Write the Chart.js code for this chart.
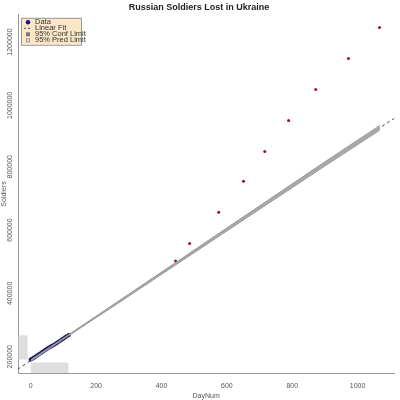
<!DOCTYPE html>
<html><head><meta charset="utf-8">
<script src="https://cdn.jsdelivr.net/npm/chart.js@4"></script>
<style>html,body{margin:0;padding:0;background:#fff}#w{width:400px;height:400px}</style>
</head><body><div id="w"><canvas id="c"></canvas></div>
<script>
const dataDays = [0,5,10,15,20,25,30,35,40,45,50,55,60,65,70,75,80,85,90,95,100,105,110,116];
const dataVals = [154000,157000,160000,163500,167000,170500,174000,177500,181000,184500,188000,191000,194000,197000,200000,203000,206500,210000,213500,217000,220500,224000,227500,231000];
const extraDays = [443,486,575,651,716,789,872,972,1067];
const extraVals = [465000,521000,619000,717000,811000,909000,1007000,1105000,1203000];
const fitDays = [-40,1112];
const fitVals = [123500,916000];
const bandDays = [0,116,300,600,900,1067];
const confLo = [150000,230000,355000,561000,766000,879000];
const confHi = [152500,232000,360000,569000,778000,892000];
const predLo = [148500,229000,354000,560000,765000,877000];
const predHi = [154000,233500,361000,570000,779000,894000];
const leftBoxY = [154000,231000];
const leftBoxX = [-39,-9];
const bottomBoxX = [0,116];
const bottomBoxY = [111000,145000];
const legendLabels = ['Data','Linear Fit','95% Conf Limit','95% Pred Limit'];
const yTicks = [200000,400000,600000,800000,1000000,1200000];
const xTicks = [0,200,400,600,800,1000];

const pts=(xs,ys)=>xs.map((x,i)=>({x,y:ys[i]}));
const box=(xs,ys)=>[{x:xs[0],y:ys[1]},{x:xs[1],y:ys[1]}];
const boxLo=(xs,ys)=>[{x:xs[0],y:ys[0]},{x:xs[1],y:ys[0]}];

const legendPlugin={id:'lg',afterDraw(ch){
  const c=ch.ctx,a=ch.chartArea;const x=a.left+3,y=a.top+3;
  c.save();c.fillStyle='#fbe6c8';c.strokeStyle='#999';c.lineWidth=1;
  c.fillRect(x,y,60,27);c.strokeRect(x+.5,y+.5,60,27);
  c.font='7.5px Arial, "Liberation Sans"';c.textBaseline='middle';c.fillStyle='#333';
  legendLabels.forEach((t,i)=>{
    const yy=y+4.5+i*6;
    c.fillText(t,x+14,yy);
    if(i===0){c.fillStyle='#1a0f9a';c.beginPath();c.arc(x+7,yy,2.3,0,7);c.fill();c.fillStyle='#333';}
    if(i===1){c.strokeStyle='#555';c.setLineDash([2,2]);c.beginPath();c.moveTo(x+3,yy);c.lineTo(x+11,yy);c.stroke();c.setLineDash([]);}
    if(i===2){c.fillStyle='#777';c.fillRect(x+5,yy-2,4,4);c.fillStyle='#333';}
    if(i===3){c.strokeStyle='#999';c.strokeRect(x+5.5,yy-1.5,3,3);}
  });
  c.restore();
}};

new Chart(document.getElementById('c'),{
  type:'scatter',
  data:{datasets:[
    {data:boxLo(leftBoxX,leftBoxY),showLine:true,pointRadius:0,borderWidth:0,fill:false},
    {data:box(leftBoxX,leftBoxY),showLine:true,pointRadius:0,borderWidth:0,fill:'-1',backgroundColor:'rgba(200,200,200,0.6)'},
    {data:boxLo(bottomBoxX,bottomBoxY),showLine:true,pointRadius:0,borderWidth:0,fill:false},
    {data:box(bottomBoxX,bottomBoxY),showLine:true,pointRadius:0,borderWidth:0,fill:'-1',backgroundColor:'rgba(200,200,200,0.6)'},
    {data:pts(bandDays,predLo),showLine:true,pointRadius:0,borderWidth:0.5,borderColor:'#aaa',fill:false},
    {data:pts(bandDays,predHi),showLine:true,pointRadius:0,borderWidth:0.5,borderColor:'#aaa',fill:'-1',backgroundColor:'rgba(200,200,200,0.7)'},
    {data:pts(bandDays,confLo),showLine:true,pointRadius:0,borderWidth:0.8,borderColor:'#444',fill:false},
    {data:pts(bandDays,confHi),showLine:true,pointRadius:0,borderWidth:0.8,borderColor:'#444',fill:'-1',backgroundColor:'rgba(95,95,95,1)'},
    {data:pts(fitDays,fitVals),showLine:true,pointRadius:0,borderWidth:1,borderColor:'#444',borderDash:[3,3]},
    {data:pts(dataDays,dataVals),pointRadius:1.2,backgroundColor:'#1a0f9a',showLine:true,borderColor:'#12125e',borderWidth:1.8},
    {data:pts(extraDays,extraVals),pointRadius:1.5,backgroundColor:'#9b1030',borderWidth:0}
  ]},
  options:{responsive:true,maintainAspectRatio:false,animation:false,
    layout:{padding:{top:0,right:2,left:0,bottom:0}},
    plugins:{legend:{display:false},tooltip:{enabled:false},
      title:{display:true,text:'Russian Soldiers Lost in Ukraine',font:{size:9,weight:'bold',family:'Arial, "Liberation Sans"'},color:'#222',padding:{top:2,bottom:2}}},
    scales:{
      x:{min:-39,max:1112,grid:{display:false},border:{color:'#999'},
        afterBuildTicks:s=>{s.ticks=xTicks.map(v=>({value:v}));},
        ticks:{color:'#555',font:{size:7,family:'Arial, "Liberation Sans"'},maxRotation:0,padding:1,callback:v=>String(v)},
        title:{display:true,text:'DayNum',color:'#555',font:{size:7,family:'Arial, "Liberation Sans"'},padding:0}},
      y:{min:111000,max:1243000,grid:{display:false},border:{color:'#999'},
        afterBuildTicks:s=>{s.ticks=yTicks.map(v=>({value:v}));},
        afterFit:s=>{s.width=18;},
        ticks:{color:'#555',font:{size:7,family:'Arial, "Liberation Sans"'},minRotation:90,maxRotation:90,padding:0,callback:v=>String(v)},
        title:{display:true,text:'Soldiers',color:'#555',font:{size:7,family:'Arial, "Liberation Sans"'},padding:0}}
    }},
  plugins:[legendPlugin]
});
</script></body></html>
